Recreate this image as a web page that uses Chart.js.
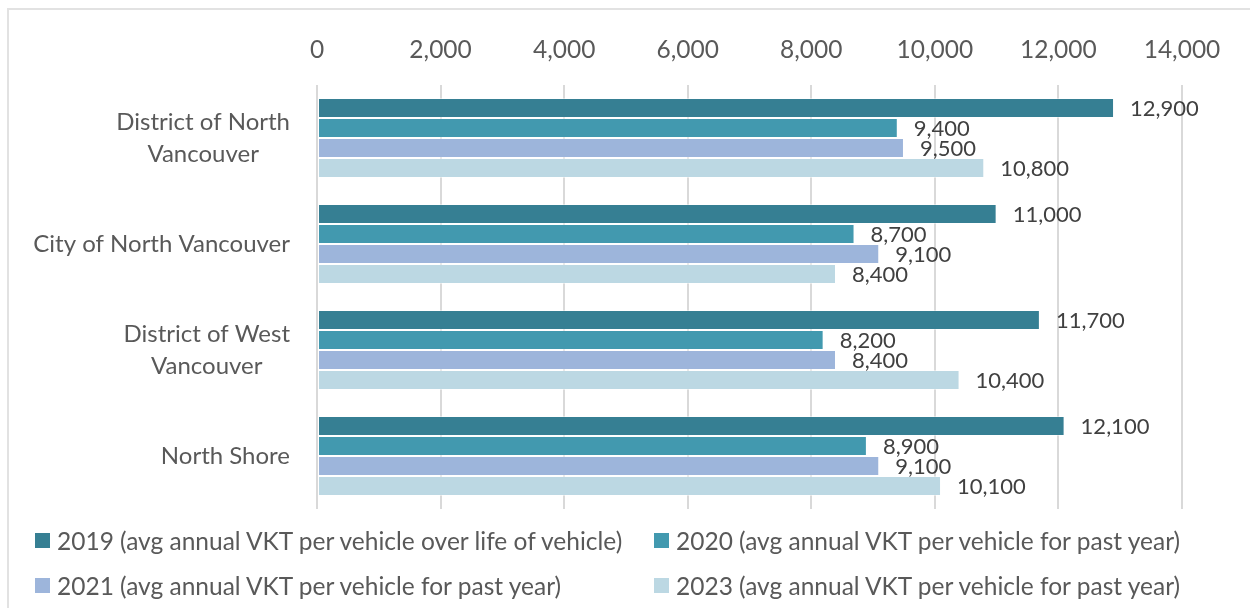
<!DOCTYPE html>
<html lang="en">
<head>
    <meta charset="UTF-8">
    <title>Annual VKT per vehicle</title>
    <style>
        body {
            margin: 0;
            background: #ffffff;
            font-family: 'Lato', 'Noto Sans', sans-serif;
        }

        #wrap {
            position: relative;
            width: 1250px;
            height: 608px;
            overflow: hidden;
        }

        #frame {
            position: absolute;
            left: 7px;
            top: 8px;
            width: 1300px;
            height: 700px;
            border-left: 2px solid #e2e2e2;
            border-top: 2px solid #e2e2e2;
        }

        canvas {
            position: absolute;
            left: 0;
            top: 0;
        }

        .legend-item {
            position: absolute;
            display: flex;
            align-items: center;
            font-size: 24.5px;
            color: #595959;
            white-space: nowrap;
        }

        .legend-item span.box {
            display: inline-block;
            width: 15px;
            height: 15px;
            margin-right: 7px;
        }
    </style>
</head>
<body>
    <div id="wrap">
        <div id="frame"></div>
        <canvas id="vkt-chart" width="1250" height="608"></canvas>
        <div id="legend"></div>
    </div>

    <script src="https://cdn.jsdelivr.net/npm/chart.js@4.4.0/dist/chart.umd.min.js"></script>

    <script>
        // categories (multi-line, as in the original)
        const categories = [
            ['District of North', 'Vancouver'],
            ['City of North Vancouver'],
            ['District of West', 'Vancouver'],
            ['North Shore']
        ];

        const seriesNames = [
            '2019 (avg annual VKT per vehicle over life of vehicle)',
            '2020 (avg annual VKT per vehicle for past year)',
            '2021 (avg annual VKT per vehicle for past year)',
            '2023 (avg annual VKT per vehicle for past year)'
        ];

        const vkt2019 = [12900, 11000, 11700, 12100];
        const vkt2020 = [9400, 8700, 8200, 8900];
        const vkt2021 = [9500, 9100, 8400, 9100];
        const vkt2023 = [10800, 8400, 10400, 10100];

        const xTicks = [0, 2000, 4000, 6000, 8000, 10000, 12000, 14000];

        const colors = ['#367f93', '#4299af', '#9db5db', '#bcd8e3'];

        const fontFamily = 'Lato, "Noto Sans", sans-serif';

        const allSeries = [vkt2019, vkt2020, vkt2021, vkt2023];

        const datasets = allSeries.map((values, i) => ({
            label: seriesNames[i],
            data: values,
            backgroundColor: colors[i],
            borderColor: 'rgba(255,255,255,0.45)',
            borderWidth: 1,
            borderSkipped: false,
            categoryPercentage: 0.755,
            barPercentage: 1.0
        }));

        // value labels at the end of every bar
        const valueLabels = {
            id: 'valueLabels',
            afterDatasetsDraw(chart) {
                const { ctx } = chart;
                ctx.save();
                ctx.font = '22px ' + fontFamily;
                ctx.fillStyle = '#404040';
                ctx.textAlign = 'left';
                ctx.textBaseline = 'middle';
                chart.data.datasets.forEach((ds, di) => {
                    const meta = chart.getDatasetMeta(di);
                    meta.data.forEach((bar, i) => {
                        ctx.fillText(ds.data[i].toLocaleString('en-US'), bar.x + 16, bar.y + 1);
                    });
                });
                ctx.restore();
            }
        };

        // category labels: block right aligned, lines centred to each other
        const categoryLabels = {
            id: 'categoryLabels',
            afterDraw(chart) {
                const { ctx } = chart;
                const yScale = chart.scales.y;
                const rightEdge = chart.chartArea.left - 27;
                const lineGap = 32;
                ctx.save();
                ctx.font = '24px ' + fontFamily;
                ctx.fillStyle = '#595959';
                ctx.textAlign = 'center';
                ctx.textBaseline = 'middle';
                categories.forEach((lines, i) => {
                    const widest = Math.max(...lines.map(l => ctx.measureText(l).width));
                    const cx = rightEdge - widest / 2;
                    const cy = yScale.getPixelForValue(i);
                    const startY = cy - (lines.length - 1) * lineGap / 2;
                    lines.forEach((l, j) => ctx.fillText(l, cx, startY + j * lineGap));
                });
                ctx.restore();
            }
        };

        const chart = new Chart(document.getElementById('vkt-chart'), {
            type: 'bar',
            data: {
                labels: categories.map(c => c.join(' ')),
                datasets: datasets
            },
            options: {
                indexAxis: 'y',
                responsive: false,
                animation: false,
                layout: {
                    padding: { left: 0, top: 0, right: 68, bottom: 99 }
                },
                plugins: {
                    legend: { display: false },
                    tooltip: { enabled: false }
                },
                scales: {
                    x: {
                        position: 'top',
                        min: 0,
                        max: 14000,
                        afterFit(scale) { scale.height = 85; },
                        afterBuildTicks(scale) {
                            scale.ticks = xTicks.map(v => ({ value: v }));
                        },
                        grid: {
                            color: '#d9d9d9',
                            lineWidth: 2,
                            drawTicks: false
                        },
                        border: { display: false },
                        ticks: {
                            padding: 20,
                            color: '#595959',
                            font: { family: fontFamily, size: 24.5 },
                            callback: v => v.toLocaleString('en-US')
                        }
                    },
                    y: {
                        afterFit(scale) { scale.width = 317; },
                        grid: { display: false },
                        border: { display: false },
                        ticks: { display: false }
                    }
                }
            },
            plugins: [valueLabels, categoryLabels]
        });

        // two-column legend under the plot
        const legendBox = document.getElementById('legend');
        const legendPos = [
            { x: 35, y: 540 },
            { x: 654, y: 540 },
            { x: 35, y: 585 },
            { x: 654, y: 585 }
        ];
        chart.data.datasets.forEach((ds, i) => {
            const item = document.createElement('div');
            item.className = 'legend-item';
            item.style.left = legendPos[i].x + 'px';
            item.style.top = (legendPos[i].y - 15) + 'px';
            item.style.height = '30px';
            const box = document.createElement('span');
            box.className = 'box';
            box.style.background = ds.backgroundColor;
            const txt = document.createElement('span');
            txt.textContent = ds.label;
            item.appendChild(box);
            item.appendChild(txt);
            legendBox.appendChild(item);
        });
    </script>
</body>
</html>
